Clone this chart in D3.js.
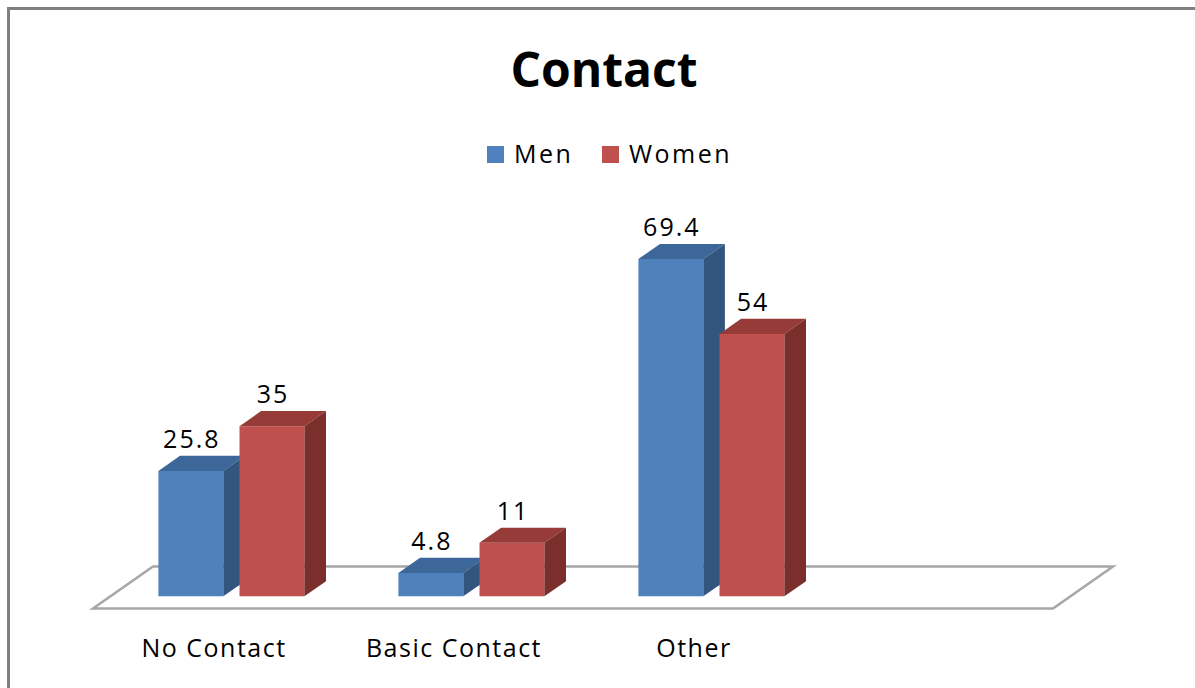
<!DOCTYPE html>
<html>
<head>
<meta charset="utf-8">
<script src="https://cdn.jsdelivr.net/npm/d3@7"></script>
<style>
  html, body { margin: 0; padding: 0; background: #fff; overflow: hidden; }
  svg { display: block; }
  text { font-family: "Open Sans", "Noto Sans", sans-serif; fill: #000; }
</style>
</head>
<body>
<svg id="chart" width="1195" height="688"></svg>
<script>
// Chart data
const title = "Contact";
const categories = ["No Contact", "Basic Contact", "Other", ""];
const seriesNames = ["Men", "Women"];
const men = [25.8, 4.8, 69.4, null];
const women = [35, 11, 54, null];

const frontColors = { Men: "#4F81BD", Women: "#C0504D" };
const topColors   = { Men: "#3D6798", Women: "#963B38" };
const sideColors  = { Men: "#33567F", Women: "#7B2F2D" };

const svg = d3.select("#chart");

// Outer frame (extends beyond the right/bottom of the view)
svg.append("rect")
  .attr("x", 8.5).attr("y", 8.5)
  .attr("width", 1300).attr("height", 800)
  .attr("fill", "none").attr("stroke", "#808080").attr("stroke-width", 3);

// Title
svg.append("text")
  .attr("x", 604).attr("y", 87)
  .attr("text-anchor", "middle")
  .style("font-size", "48px").style("font-weight", "700")
  .text(title);

// Legend
const legend = svg.append("g").attr("transform", "translate(487,146)");
const legendItems = [{ name: "Men", x: 0 }, { name: "Women", x: 115 }];
legendItems.forEach(it => {
  legend.append("rect").attr("x", it.x).attr("y", 0).attr("width", 17).attr("height", 17)
    .attr("fill", frontColors[it.name]);
  legend.append("text").attr("x", it.x + 27).attr("y", 17)
    .style("font-size", "25px").attr("letter-spacing", "2.5")
    .text(it.name);
});

// Oblique projection: floor depth vector and bar placement within depth
const floorFrontY = 608.5;
const depth = { dx: 60, dy: -42 };
const barFrontFrac = 0.29;
const barDepthFrac = 0.36;
const offX = depth.dx * barFrontFrac, offY = depth.dy * barFrontFrac;
const bdx = depth.dx * barDepthFrac, bdy = depth.dy * barDepthFrac;

const x = d3.scaleBand().domain(categories).range([93, 1053]).padding(0);
const xs = d3.scaleBand().domain(seriesNames).range([48, 194]).paddingInner(0.2).paddingOuter(0);
const baseY = floorFrontY + offY;
const y = d3.scaleLinear().domain([0, 80]).range([baseY, baseY - 80 * 4.86]);

// Floor
const x0 = x.range()[0], x1 = x.range()[1];
svg.append("path")
  .attr("d", `M${x0},${floorFrontY} L${x1},${floorFrontY} L${x1 + depth.dx},${floorFrontY + depth.dy} L${x0 + depth.dx},${floorFrontY + depth.dy} Z`)
  .attr("fill", "none").attr("stroke", "#a6a6a6").attr("stroke-width", 2.5)
  .attr("stroke-linejoin", "miter");

// Bars
const rows = [];
categories.forEach((c, i) => {
  if (men[i] != null) rows.push({ cat: c, s: "Men", v: men[i] });
  if (women[i] != null) rows.push({ cat: c, s: "Women", v: women[i] });
});

const bars = svg.append("g");
rows.forEach(d => {
  const left = x(d.cat) + xs(d.s) + offX;
  const right = left + xs.bandwidth();
  const top = y(d.v);
  const bottom = y(0);
  const g = bars.append("g");
  // front face
  g.append("path")
    .attr("d", `M${left},${bottom} L${left},${top} L${right},${top} L${right},${bottom} Z`)
    .attr("fill", frontColors[d.s]);
  // top face
  g.append("path")
    .attr("d", `M${left},${top} L${left + bdx},${top + bdy} L${right + bdx},${top + bdy} L${right},${top} Z`)
    .attr("fill", topColors[d.s]);
  // side face
  g.append("path")
    .attr("d", `M${right},${top} L${right + bdx},${top + bdy} L${right + bdx},${bottom + bdy} L${right},${bottom} Z`)
    .attr("fill", sideColors[d.s]);
  // value label
  g.append("text")
    .attr("x", (left + right) / 2 + 1)
    .attr("y", top + bdy - 8)
    .attr("text-anchor", "middle")
    .style("font-size", "25px").attr("letter-spacing", "2")
    .text(d.v);
});

// Category labels
svg.append("g").selectAll("text")
  .data(categories.filter(c => c !== ""))
  .join("text")
  .attr("x", d => x(d) + x.bandwidth() / 2 + 1)
  .attr("y", 657)
  .attr("text-anchor", "middle")
  .style("font-size", "25px").attr("letter-spacing", "1.5")
  .text(d => d);
</script>
</body>
</html>
